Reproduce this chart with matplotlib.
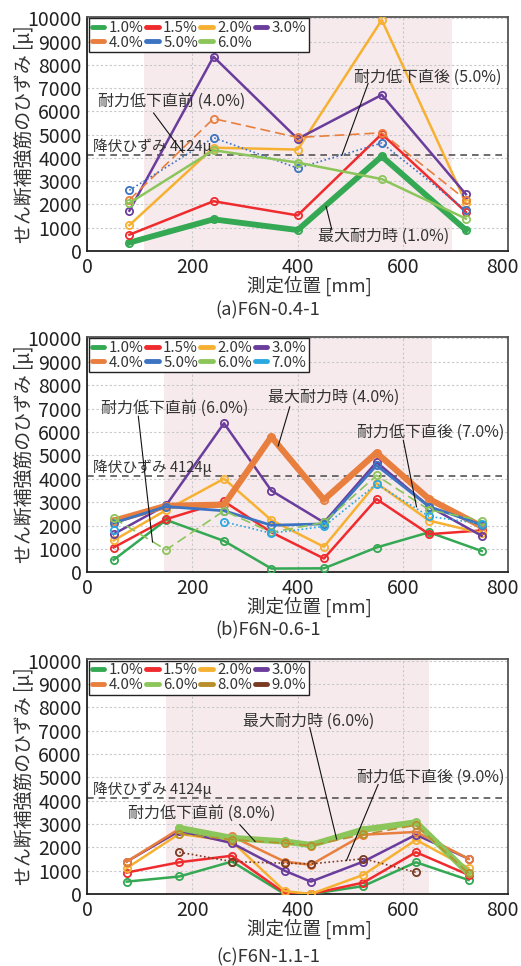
import numpy as np
import matplotlib
matplotlib.use("Agg")
import matplotlib.pyplot as plt
from matplotlib.lines import Line2D
from matplotlib.transforms import ScaledTranslation

plt.rcParams['font.family'] = ['Noto Sans CJK JP', 'DejaVu Sans']

nan = np.nan

# ---------------- data ----------------
# (a) F6N-0.4-1
x_a = [80, 240, 400, 560, 720]
a_labels = ["1.0%", "1.5%", "2.0%", "3.0%", "4.0%", "5.0%", "6.0%"]
a_10 = [360, 1360, 900, 4070, 900]
a_15 = [700, 2140, 1530, 5030, 1670]
a_20 = [1110, 4440, 4360, 9930, 2070]
a_30 = [1730, 8350, 4820, 6710, 2440]
a_40 = [2200, 5690, 4880, 5080, 2200]
a_50 = [2610, 4870, 3560, 4640, 1750]
a_60 = [2060, 4330, 3800, 3090, 1390]

# (b) F6N-0.6-1
x_b = [50, 150, 260, 350, 450, 550, 650, 750]
b_labels = ["1.0%", "1.5%", "2.0%", "3.0%", "4.0%", "5.0%", "6.0%", "7.0%"]
b_10 = [530, 2240, 1340, 160, 170, 1060, 1710, 910]
b_15 = [1060, 2270, 3030, 1710, 590, 3130, 1630, 1790]
b_20 = [1360, 2660, 4000, 2230, 1090, 3810, 2210, 1670]
b_30 = [1630, 2870, 6370, 3490, 2130, 4710, 2810, 1560]
b_40 = [2200, 2840, 2890, 5790, 3100, 5110, 3130, 1960]
b_50 = [2110, 2810, 2630, 2010, 2070, 4570, 2810, 2030]
b_60 = [2310, 960, 2630, 1710, 2130, 4140, 2670, 2210]
b_70 = [1800, nan, 2160, 1670, 1960, 3770, 2390, 2070]

# (c) F6N-1.1-1
x_c = [75, 175, 275, 375, 425, 525, 625, 725]
c_labels = ["1.0%", "1.5%", "2.0%", "3.0%", "4.0%", "6.0%", "8.0%", "9.0%"]
c_10 = [530, 750, 1390, 0, 0, 340, 1360, 600]
c_15 = [920, 1360, 1640, 50, 0, 490, 1790, 820]
c_20 = [1110, 2580, 2250, 130, 0, 820, 2320, 1110]
c_30 = [1390, 2700, 2180, 1000, 530, 1390, 2540, 1510]
c_40 = [1390, 2790, 2470, 1390, 1250, 2540, 2660, 1510]
c_60 = [nan, 2830, 2400, 2250, 2100, 2760, 3070, 890]
c_80 = [nan, 2580, 2330, 2180, 2070, 2550, 2950, 890]
c_90 = [nan, 1790, 1390, 1320, 1290, 1510, 930, nan]

yield_strain = 4124
shade_a = (107, 693)
shade_b = (146, 655)
shade_c = (150, 649)

captions = ["(a)F6N-0.4-1", "(b)F6N-0.6-1", "(c)F6N-1.1-1"]

# ---------------- styles ----------------
C = {
    "1.0%": "#34a853", "1.5%": "#ef2b2d", "2.0%": "#f6b133", "3.0%": "#6a3d9c",
    "4.0%": "#e97f3e", "5.0%": "#3d74c2", "6.0%": "#8cc65b", "7.0%": "#2aa8e0",
    "8.0%": "#b98f2c", "9.0%": "#7a3b22",
}
thin = 1.8
solid = "-"
dashed = (0, (6, 3))
dotted = (0, (1, 1.5))

fig = plt.figure(figsize=(5.21, 9.66), dpi=100)
W, H = 521.0, 966.0
L, R = 87.3, 508.0
boxes = [(16.7, 251.0), (336.7, 572.3), (659.0, 894.0)]
cap_y = [310, 630, 957]

txtc = "#333333"


def make_ax(i):
    top, bot = boxes[i]
    ax = fig.add_axes([L / W, 1 - bot / H, (R - L) / W, (bot - top) / H])
    ax.set_xlim(0, 800)
    ax.set_ylim(0, 10070)
    ax.set_xticks(np.arange(0, 801, 200))
    ax.set_yticks(np.arange(0, 10001, 1000))
    ax.set_axisbelow(True)
    ax.grid(True, color="#c8c8c8", linestyle=(0, (2, 2)), lw=0.8)
    ax.tick_params(length=0, labelsize=14, pad=4, colors="#222222")
    for s in ["left", "bottom"]:
        ax.spines[s].set_color("#222222")
        ax.spines[s].set_linewidth(1.3)
    for s in ["top", "right"]:
        ax.spines[s].set_color("#555555")
        ax.spines[s].set_linewidth(1.3)
    ax.set_xlabel("測定位置 [mm]", fontsize=13.3, color=txtc)
    ax.xaxis.set_label_coords(0.527, -0.105)
    ax.set_ylabel("せん断補強筋のひずみ [μ]", fontsize=13.6, color=txtc)
    ax.yaxis.set_label_coords(-0.125, 0.5)
    ax.axhline(yield_strain, color="#555555", lw=1.2, ls=(0, (4, 3)), zorder=2)
    ax.text(10, yield_strain + 50, "降伏ひずみ 4124μ", fontsize=10.6,
            color=txtc, ha="left", va="bottom", zorder=6)
    fig.text(268 / W, 1 - cap_y[i] / H, captions[i], fontsize=13.2,
             color=txtc, ha="center", va="center")
    last = ax.get_xticklabels()[-1]
    last.set_transform(last.get_transform() +
                       ScaledTranslation(-5.5 / 100, 0, fig.dpi_scale_trans))
    return ax


def series(ax, x, ys, labels, styles, shade):
    ax.axvspan(shade[0], shade[1], color="#f6eaed", zorder=0, lw=0)
    for y, lab in zip(ys, labels):
        ls, lw = styles.get(lab, (solid, thin))
        ax.plot(x, y, color=C[lab], ls=ls, lw=lw, marker="o", ms=5.2,
                mfc="none", mew=1.3, zorder=3, solid_joinstyle="round")
    handles = [Line2D([], [], color=C[l], lw=3.5, solid_capstyle="round") for l in labels]
    n = len(labels)
    order = []
    for c in range(4):
        for r in range(2):
            k = r * 4 + c
            if k < n:
                order.append(k)
    leg = ax.legend([handles[k] for k in order], [labels[k] for k in order],
                    ncol=4, loc="upper left", fontsize=10.8, handlelength=0.85,
                    handletextpad=0.3, columnspacing=0.15, labelspacing=0.05,
                    borderpad=0.18, borderaxespad=0.1, fancybox=False,
                    framealpha=1, edgecolor="#222222")
    leg.get_frame().set_linewidth(1.0)
    leg.set_zorder(10)
    for t in leg.get_texts():
        t.set_color(txtc)


def note(ax, text, tx, ty, p0, p1):
    ax.text(tx, ty, text, fontsize=11.5, color=txtc, ha="left", va="center", zorder=7)
    ax.plot([p0[0], p1[0]], [p0[1], p1[1]], color="#111111", lw=0.8, zorder=7)


# (a)
ax = make_ax(0)
series(ax, x_a, [a_10, a_15, a_20, a_30, a_40, a_50, a_60], a_labels,
       {"1.0%": (solid, 4.2), "4.0%": (dashed, 1.2), "5.0%": (dotted, 1.2)}, shade_a)
note(ax, "耐力低下直前 (4.0%)", 21, 6430, (126, 5930), (182, 4230))
note(ax, "耐力低下直後 (5.0%)", 508, 7470, (534, 7200), (484, 4110))
note(ax, "最大耐力時 (1.0%)", 439, 640, (454, 1920), (465, 920))

# (b)
ax = make_ax(1)
series(ax, x_b, [b_10, b_15, b_20, b_30, b_40, b_50, b_60, b_70], b_labels,
       {"4.0%": (solid, 4.5), "5.0%": (solid, 2.0), "6.0%": (dashed, 1.2),
        "7.0%": (dotted, 1.2)}, shade_b)
note(ax, "耐力低下直前 (6.0%)", 27, 6990, (97, 6670), (124, 1300))
note(ax, "最大耐力時 (4.0%)", 344, 7500, (385, 7070), (363, 5400))
note(ax, "耐力低下直後 (7.0%)", 513, 5980, (601, 5640), (626, 2800))

# (c)
ax = make_ax(2)
series(ax, x_c, [c_10, c_15, c_20, c_30, c_40, c_60, c_80, c_90], c_labels,
       {"6.0%": (solid, 4.5), "8.0%": (dashed, 1.2), "9.0%": (dotted, 1.2)}, shade_c)
note(ax, "最大耐力時 (6.0%)", 297, 7420, (423, 7130), (474, 2360))
note(ax, "耐力低下直後 (9.0%)", 513, 4980, (553, 4690), (493, 1440))
note(ax, "耐力低下直前 (8.0%)", 78, 3470, (290, 2970), (319, 2250))

fig.savefig("out.png", dpi=100)
